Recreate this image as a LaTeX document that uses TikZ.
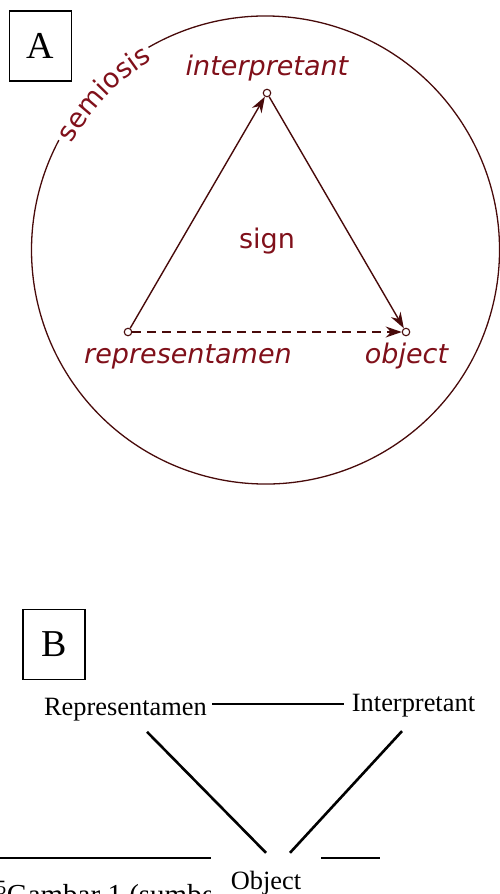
\documentclass[tikz,border=0pt]{standalone}
\usepackage{fontspec}
\setmainfont{Liberation Serif}
\newfontfamily\verdana{DejaVu Sans}
\usetikzlibrary{positioning}
\usetikzlibrary{calc}
\usetikzlibrary{arrows.meta}
\usetikzlibrary{decorations.text}
\definecolor{semred}{RGB}{128,16,26}
\definecolor{darkline}{RGB}{72,10,10}

\begin{document}
\begin{tikzpicture}[x=1pt, y=-1pt,
    lbl/.style={font=\verdana\itshape\fontsize{27}{32}\selectfont, text=semred, anchor=base, inner sep=0pt},
    dot/.style={circle, draw=darkline, fill=white, line width=1.1pt, inner sep=0pt, minimum size=7.5pt},
    tri/.style={draw=darkline, line width=1.4pt, -{Stealth[length=16pt, width=11pt]}},
    boxlbl/.style={draw, line width=1.2pt, minimum width=62pt, minimum height=70pt, inner sep=0pt, font=\fontsize{38}{40}\selectfont},
    plain/.style={font=\fontsize{26.4}{30}\selectfont, inner sep=0pt, anchor=base},
    bline/.style={line width=2.6pt}]
    \useasboundingbox (0,0) rectangle (499,894);

    % A: triadic sign inside the semiosis circle
    \node[boxlbl] (boxA) at (40.5,46) {A};
    \coordinate (c) at (265.5,250);
    \draw[darkline, line width=1.3pt] (c) ++(-120:234) arc[start angle=-120, end angle=208, radius=234];
    \path[decorate, decoration={text along path, text align=center, text color=semred,
        text={|\verdana\fontsize{27}{32}\selectfont|semiosis}}]
        (c) ++(-153:221) arc[start angle=-153, end angle=-119, radius=221];

    \node[dot] (rp) at (128,332) {};
    \node[dot] (ip) at (267,93) {};
    \node[dot] (op) at (406,332) {};
    \draw[tri] (rp) -- (ip);
    \draw[tri] (ip) -- (op);
    \draw[tri, dash pattern=on 9pt off 6pt] (rp) -- (op);

    \node[lbl] (interp) at (267,75) {interpretant};
    \node[lbl] (repr) at (188,363) {representamen};
    \node[lbl] (objA) at (406.5,363) {object};
    \node[lbl, font=\verdana\fontsize{27}{32}\selectfont] (sign) at (267,248) {sign};

    % B: the same triad, plain
    \node[boxlbl] (boxB) at (54,644.5) {B};
    \node[plain] (rep) at (125.5,715) {Representamen};
    \node[plain] (int) at (413.5,711.7) {Interpretant};
    \coordinate (hl) at ([yshift=5pt]rep.east);

    \node[plain, anchor=base west, font=\fontsize{29}{32}\selectfont] (cap) at (-4,904) {\textsuperscript{5}Gambar 1 (sumber};
    \draw[line width=1.3pt] (0,858) -- (380,858);
    \node[plain, fill=white, minimum width=110pt, text height=33pt, text depth=20pt] (objB) at (266,889) {Object};

    \draw[bline] ([xshift=5pt]hl) -- ([xshift=-8pt]int.west |- hl);
    \draw[bline] ([xshift=21.5pt, yshift=-11pt]rep.south) -- ([yshift=3pt]objB.north);
    \draw[bline] ([xshift=-11.5pt, yshift=-13.6pt]int.south) -- ([xshift=24pt, yshift=3pt]objB.north);
\end{tikzpicture}
\end{document}
